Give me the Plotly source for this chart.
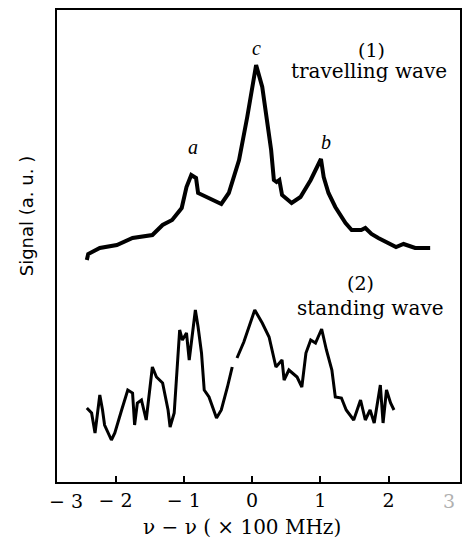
import plotly.graph_objects as go

# Curve (1): travelling wave
x1 = [-2.42, -2.40, -2.23, -1.98, -1.75, -1.46, -1.31, -1.17, -1.03, -0.96, -0.89, -0.82, -0.79,
      -0.63, -0.45, -0.34, -0.19, -0.07, 0.00, 0.06, 0.15, 0.20, 0.28, 0.32, 0.36, 0.40, 0.44,
      0.58, 0.71, 0.86, 0.96, 1.01, 1.05, 1.12, 1.22, 1.37, 1.46, 1.60, 1.66, 1.75, 1.85, 2.11,
      2.22, 2.39, 2.61]
y1 = [222, 228, 234, 237, 244, 247, 257, 262, 274, 295, 307, 304, 289,
      284, 278, 289, 322, 365, 395, 417, 395, 372, 332, 302, 300, 302, 287,
      279, 285, 302, 317, 323, 305, 289, 275, 259, 252, 252, 254, 248, 244, 235,
      238, 234, 234]

# Curve (2): standing wave (None = gap in trace)
x2 = [-2.42, -2.35, -2.30, -2.27, -2.23, -2.19, -2.16, -2.06, -2.01, -1.91, -1.82, -1.75,
      -1.72, -1.68, -1.62, -1.55, -1.50, -1.46, -1.40, -1.31, -1.23, -1.20, -1.14, -1.09,
      -1.06, -1.02, -0.96, -0.92, -0.87, -0.83, -0.79, -0.74, -0.70, -0.63, -0.52, -0.45,
      -0.36, -0.29, None, -0.22, -0.12, -0.01, 0.04, 0.15, 0.25, 0.35, 0.44, 0.47, 0.54,
      0.66, 0.73, 0.79, 0.86, 0.93, 1.02, 1.09, 1.17, 1.22, 1.31, 1.38, 1.49, 1.59, 1.66,
      1.73, 1.79, 1.88, 1.92, 1.97, 2.03, 2.08]
y2 = [74, 69, 49, 65, 87, 72, 57, 42, 49, 72, 92, 89,
      57, 79, 82, 62, 95, 115, 105, 99, 72, 55, 69, 122,
      152, 142, 149, 122, 152, 172, 155, 129, 92, 85, 64, 72,
      95, 115, None, 124, 140, 162, 172, 159, 145, 115, 122, 102, 112,
      105, 95, 129, 142, 139, 153, 132, 112, 85, 84, 72, 62, 82, 62,
      72, 59, 97, 59, 92, 79, 72]

tick_vals = [-2, -1, 0, 1, 2]
tick_text = ["− 2", "− 1", "0", "1", "2"]
edge_tick_vals = [-3, 3]
edge_tick_text = ["− 3", "3"]

X_RANGE = [-2.857, 3.047]
Y_RANGE = [0, 472]

SERIF = "DejaVu Serif, serif"
TIMES = "Liberation Serif, Times New Roman, serif"

fig = go.Figure()
fig.add_trace(go.Scatter(x=x1, y=y1, mode="lines",
                         line=dict(color="black", width=4), showlegend=False))
fig.add_trace(go.Scatter(x=x2, y=y2, mode="lines", connectgaps=False,
                         line=dict(color="black", width=3), showlegend=False))

fig.update_layout(
    width=467, height=539,
    margin=dict(l=57, r=5, t=10, b=57),
    paper_bgcolor="white", plot_bgcolor="white",
    xaxis=dict(range=X_RANGE, tickvals=tick_vals, ticktext=tick_text,
               ticks="inside", ticklen=6, tickwidth=1.5, tickcolor="black",
               showline=True, linewidth=2, linecolor="black", mirror=True,
               showgrid=False, zeroline=False,
               tickfont=dict(family=SERIF, size=19, color="black")),
    yaxis=dict(range=Y_RANGE, showticklabels=False, ticks="",
               showline=True, linewidth=1.5, linecolor="black", mirror=True,
               showgrid=False, zeroline=False),
)

span = X_RANGE[1] - X_RANGE[0]
for v, t in zip(edge_tick_vals, edge_tick_text):
    fig.add_annotation(x=(v - X_RANGE[0]) / span, xref="paper", y=-0.012, yref="paper",
                       yanchor="top", text=t, showarrow=False,
                       font=dict(family=SERIF, size=19,
                                 color="black" if v < 0 else "#b0b0b0"))

annos = [
    ("(1)", 1.75, 432, SERIF, 19, False),
    ("travelling wave", 1.72, 411, SERIF, 20, False),
    ("c", 0.07, 434, TIMES, 20, True),
    ("a", -0.87, 335, TIMES, 20, True),
    ("b", 1.09, 340, TIMES, 20, True),
    ("(2)", 1.59, 199, SERIF, 19, False),
    ("standing wave", 1.73, 174, SERIF, 20, False),
]
for t, x, y, fam, sz, ital in annos:
    fig.add_annotation(x=x, y=y, xref="x", yref="y", text=(f"<i>{t}</i>" if ital else t),
                       showarrow=False, font=dict(family=fam, size=sz, color="black"))

fig.add_annotation(x=0.459, xref="paper", y=-0.0953, yref="paper", yanchor="middle",
                   text="ν − ν ( × 100 MHz)", showarrow=False,
                   font=dict(family=SERIF, size=20, color="black"))

fig.add_annotation(text="Signal (a. u. )", textangle=-90, showarrow=False,
                   xref="paper", x=-0.077, xanchor="center", yref="paper", y=0.563,
                   yanchor="middle",
                   font=dict(family="DejaVu Sans, sans-serif", size=18, color="black"))

fig.write_html("out.html", config={"displayModeBar": False},
               post_script="document.body.style.margin='0';")
